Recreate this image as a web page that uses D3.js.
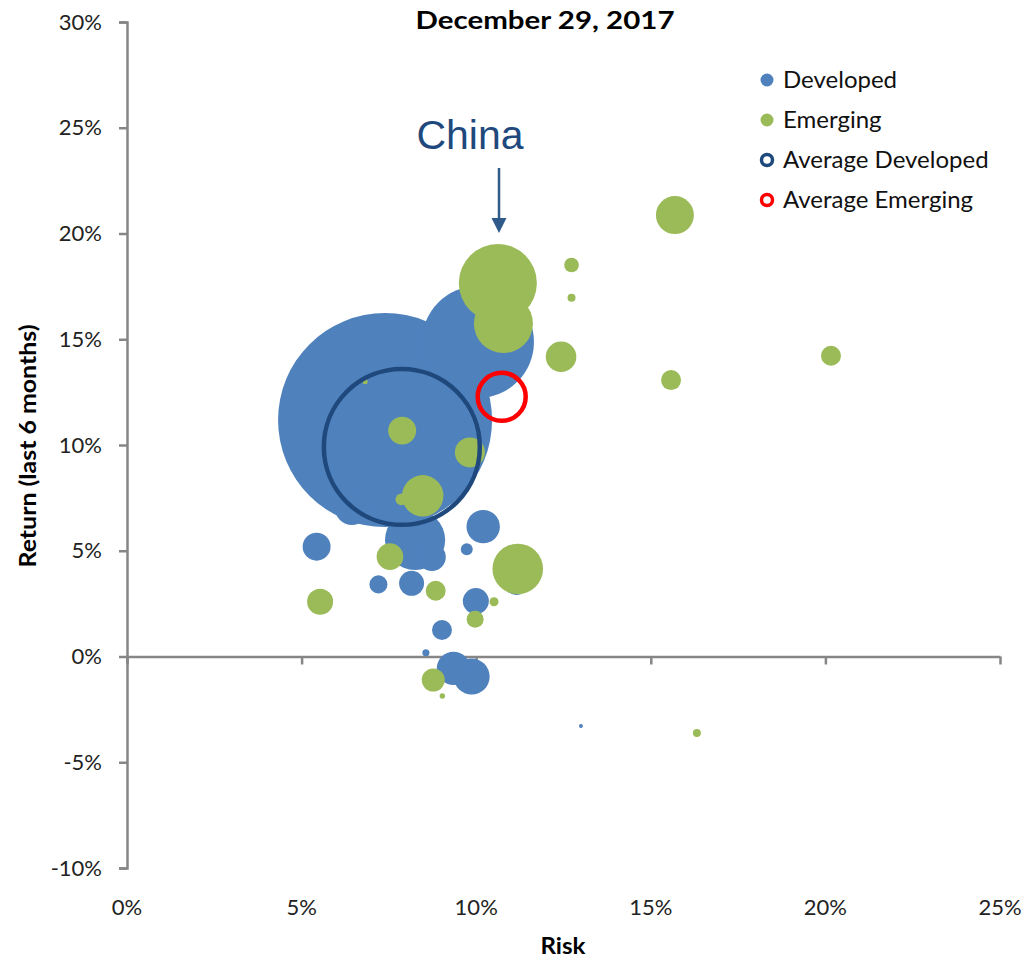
<!DOCTYPE html>
<html><head><meta charset="utf-8">
<script src="https://cdn.jsdelivr.net/npm/d3@7"></script>
<style>body{margin:0;background:#fff}svg{display:block}</style>
</head><body>
<svg id="c" width="1028" height="960"></svg>
<script>
// Data: risk (x), return (y), size (relative market weight)
const developedRisk   = [7.39,10.05,6.44,8.25,8.73,5.43,7.20,8.15,9.73,10.20,11.14,9.99,9.02,8.56,9.35,9.87,13.0];
const developedReturn = [11.18,14.87,7.02,5.51,4.70,5.19,3.41,3.46,5.07,6.14,3.48,2.62,1.25,0.18,-0.56,-0.95,-3.29];
const developedSize   = [100,27.4,2.52,7.9,1.7,1.7,0.71,1.36,0.31,2.44,1.26,1.48,0.87,0.11,2.44,2.83,0.035];

const emergingRisk   = [10.62,10.78,15.69,12.73,12.73,12.43,15.58,20.16,7.88,9.82,8.47,7.86,6.82,7.53,8.84,5.53,11.19,10.51,9.97,8.77,9.03,16.32];
const emergingReturn = [17.66,15.74,20.87,18.51,16.96,14.17,13.07,14.22,10.68,9.65,7.60,7.43,12.99,4.72,3.11,2.59,4.14,2.59,1.76,-1.11,-1.87,-3.62];
const emergingSize   = [13.3,7.6,3.15,0.47,0.14,2.04,0.87,0.87,1.71,1.97,3.74,0.31,0.055,1.55,0.87,1.48,5.59,0.18,0.63,1.16,0.064,0.14];

const avgDeveloped = {risk: 7.87, ret: 9.91, size: 53.1};
const avgEmerging  = {risk: 10.73, ret: 12.28, size: 5.03};

const xTicks = [0,5,10,15,20,25];
const yTicks = [-10,-5,0,5,10,15,20,25,30];
const legendLabels = ["Developed","Emerging","Average Developed","Average Emerging"];
const titleText = "December 29, 2017";

const svg = d3.select("#c");
const x = d3.scaleLinear().domain([0,25]).range([127,1000]);
const y = d3.scaleLinear().domain([-10,30]).range([868,22]);
const r = d3.scaleSqrt().domain([0,100]).range([0,107]);
const FONT = "Lato, 'Open Sans', sans-serif";
const AX = "#868686";

// Y axis
const yAxis = d3.axisLeft(y).tickValues(yTicks).tickSize(8).tickFormat(d=>d+"%");
const gy = svg.append("g").attr("transform",`translate(${x(0)},0)`).call(yAxis);
gy.select(".domain").attr("stroke",AX).attr("stroke-width",2.5);
gy.selectAll(".tick line").attr("stroke",AX).attr("stroke-width",2.5);
gy.selectAll(".tick text").attr("font-family",FONT).attr("font-size",22).attr("fill","#222").attr("x",-25);

// X axis at y=0
const xAxis = d3.axisBottom(x).tickValues(xTicks).tickSize(8).tickFormat("").tickSizeOuter(0);
const gx = svg.append("g").attr("transform",`translate(0,${y(0)})`).call(xAxis);
gx.select(".domain").attr("stroke",AX).attr("stroke-width",2.5);
gx.selectAll(".tick line").attr("stroke",AX).attr("stroke-width",2.5);
// X tick labels at bottom
svg.append("g").selectAll("text").data(xTicks).join("text")
  .attr("x",d=>x(d)).attr("y",915).attr("text-anchor","middle")
  .attr("font-family",FONT).attr("font-size",22).attr("fill","#222").text(d=>d+"%");

// Bubbles
function bubbles(rs, rets, sizes, color){
  const data = rs.map((d,i)=>({risk:d, ret:rets[i], size:sizes[i]})).sort((a,b)=>b.size-a.size);
  svg.append("g").selectAll("circle").data(data).join("circle")
    .attr("cx",d=>x(d.risk)).attr("cy",d=>y(d.ret)).attr("r",d=>r(d.size))
    .attr("fill",color);
}
bubbles(developedRisk, developedReturn, developedSize, "#4F81BD");
bubbles(emergingRisk, emergingReturn, emergingSize, "#9BBB59");

svg.append("circle").attr("cx",x(avgDeveloped.risk)).attr("cy",y(avgDeveloped.ret)).attr("r",r(avgDeveloped.size))
  .attr("fill","none").attr("stroke","#1F497D").attr("stroke-width",4.5);
svg.append("circle").attr("cx",x(avgEmerging.risk)).attr("cy",y(avgEmerging.ret)).attr("r",r(avgEmerging.size))
  .attr("fill","none").attr("stroke","#FF0000").attr("stroke-width",4.5);

// Title
svg.append("text").attr("x",545).attr("y",29).attr("text-anchor","middle")
  .attr("font-family",FONT).attr("font-weight","bold").attr("font-size",25)
  .attr("textLength",259).attr("lengthAdjust","spacingAndGlyphs").attr("fill","#000").text(titleText);

// Axis titles
svg.append("text").attr("x",563).attr("y",954).attr("text-anchor","middle")
  .attr("font-family",FONT).attr("font-weight","bold").attr("font-size",23)
  .attr("textLength",45).attr("lengthAdjust","spacingAndGlyphs").attr("fill","#000").text("Risk");
svg.append("text").attr("transform","translate(36,446) rotate(-90)").attr("text-anchor","middle")
  .attr("font-family",FONT).attr("font-weight","bold").attr("font-size",22)
  .attr("textLength",243).attr("lengthAdjust","spacingAndGlyphs").attr("fill","#000").text("Return (last 6 months)");

// China annotation
svg.append("text").attr("x",470).attr("y",149).attr("text-anchor","middle")
  .attr("font-family","'Liberation Sans', Arial, sans-serif").attr("font-size",41).attr("fill","#1F497D").text("China");
svg.append("line").attr("x1",499).attr("y1",168).attr("x2",499).attr("y2",220).attr("stroke","#2F5A8A").attr("stroke-width",2.5);
svg.append("path").attr("d","M491.5,218 L506.5,218 L499,233 Z").attr("fill","#2F5A8A");

// Legend
const lg = svg.append("g");
const lrows = legendLabels.map((t,i)=>({t, i}));
lg.selectAll("text").data(lrows).join("text")
  .attr("x",783).attr("y",d=>88+d.i*40).attr("font-family",FONT).attr("font-size",24).attr("fill","#111").text(d=>d.t);
lg.selectAll("circle").data(lrows).join("circle")
  .attr("cx",767).attr("cy",d=>80+d.i*40)
  .attr("r",d=>d.i<2?6.5:5.5)
  .attr("fill",d=>d.i===0?"#4F81BD":d.i===1?"#9BBB59":"none")
  .attr("stroke",d=>d.i===2?"#1F497D":d.i===3?"#FF0000":"none")
  .attr("stroke-width",3.5);
</script>
</body></html>
